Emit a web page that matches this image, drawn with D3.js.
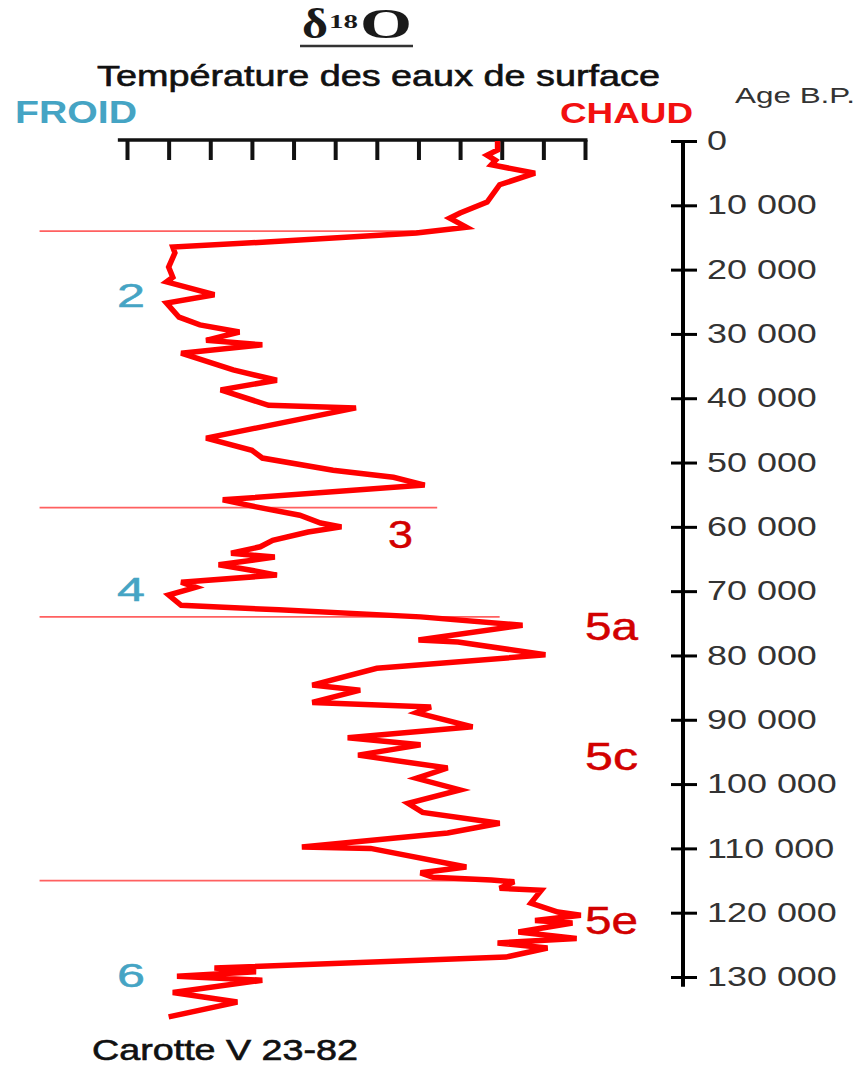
<!DOCTYPE html>
<html>
<head>
<meta charset="utf-8">
<script src="https://cdn.jsdelivr.net/npm/d3@7"></script>
<style>
  body { margin: 0; background: #fff; }
  svg { display: block; }
</style>
</head>
<body>
<svg id="chart" width="859" height="1065"></svg>
<script>
// δ18O record of core V 23-82: age (years B.P.) and relative surface-water temperature (cold → warm)
const ages = [
  0, 1400, 2200, 3000, 3700, 5000, 6800, 9500, 11200, 12000,
  13400, 14300, 15700, 16500, 17400, 19600, 21200, 21900, 23900, 25200,
  27400, 28600, 29700, 31000, 31700, 33000, 35600, 37200, 38700, 41100,
  41500, 46200, 48100, 49300, 51200, 52300, 53500, 55800, 56900, 58200,
  59400, 60000, 60800, 62100, 63100, 64100, 64700, 65900, 66700, 67500,
  68600, 69400, 70600, 72200, 72900, 74000, 75300, 77600, 77900, 79900,
  82000, 84600, 85400, 87300, 88000, 88900, 91100, 92800, 93900, 95500,
  97500, 99100, 100900, 103000, 104400, 106100, 107600, 109800, 110000, 112900,
  113800, 114500, 114900, 115200, 116200, 116500, 118500, 119900, 120400, 121200,
  121600, 123000, 124000, 124700, 125500, 126900, 128600, 129200, 129900, 130500,
  132400, 133900, 136200
];
const temps = [
  8.9, 8.9, 8.65, 8.85, 8.75, 9.8, 8.95, 8.65, 8.0, 7.75,
  8.15, 6.95, 3.35, 1.1, 1.15, 1.0, 1.1, 0.95, 2.1, 0.95,
  1.25, 1.75, 2.7, 1.9, 3.25, 1.3, 2.55, 3.6, 2.25, 3.4,
  5.5, 1.9, 3.0, 3.25, 4.95, 6.4, 7.15, 2.3, 3.1, 4.15,
  4.65, 5.15, 4.35, 3.5, 3.2, 2.5, 3.55, 2.2, 2.95, 3.6,
  1.3, 1.65, 1.0, 1.3, 3.65, 7.05, 9.5, 7.0, 7.95, 10.05,
  6.0, 4.45, 5.6, 4.45, 7.3, 6.95, 8.3, 5.3, 7.05, 5.55,
  7.7, 6.95, 8.0, 6.75, 7.1, 8.95, 7.7, 4.2, 5.85, 8.15,
  7.05, 7.35, 8.75, 9.3, 8.95, 9.95, 9.7, 10.35, 10.9, 9.8,
  10.7, 9.4, 10.8, 8.9, 10.1, 9.1, 2.1, 3.1, 1.2, 3.25,
  1.1, 2.65, 1.0
];

// Axes
const ageTicks = d3.range(0, 130001, 10000);
const tempTicks = d3.range(0, 12);

// Isotope stages
const stageNames = ["2", "3", "4", "5a", "5c", "5e", "6"];
const stageAges = [23900, 61100, 69600, 75400, 95600, 121200, 129700];
const stageCold = [true, false, true, false, false, false, true];

// Stage boundaries (age) and where each marker line stops on the temperature scale
const boundaryAges = [14000, 57000, 74000, 115000];
const boundaryEnds = [7.05, 7.45, 8.95, 8.95];

const SANS = "'Liberation Sans', Arial, Helvetica, sans-serif";
const SERIF = "'Liberation Serif', 'Times New Roman', serif";
const TEAL = "#45a4c4";
const DARKRED = "#d20000";

const svg = d3.select("#chart");
const x = d3.scaleLinear().domain([0, 11]).range([127, 585]);
const y = d3.scaleLinear().domain([0, 130000]).range([141, 977]);

// text helper: draws a label and stretches it horizontally to the given width
function addText(txt, o) {
  const t = svg.append("text")
    .attr("x", o.x).attr("y", o.y)
    .attr("font-family", o.family || SANS)
    .attr("font-size", o.size)
    .attr("font-weight", o.weight || "normal")
    .attr("fill", o.fill || "#111")
    .attr("text-anchor", o.anchor || "start")
    .text(txt);
  if (o.dy) t.attr("dy", o.dy);
  if (o.heavy) t.attr("stroke", o.fill || "#111").attr("stroke-width", o.heavy);
  if (o.width) t.attr("textLength", o.width).attr("lengthAdjust", "spacingAndGlyphs");
  return t;
}

// Title
addText("δ", { x: 302, y: 38, size: 42, family: SERIF, weight: "bold", width: 26, fill: "#1a1a1a" });
addText("18", { x: 329, y: 28, size: 19, family: SERIF, weight: "bold", width: 29, fill: "#1a1a1a" });
addText("O", { x: 360, y: 38, size: 42, family: SERIF, weight: "bold", width: 52, fill: "#1a1a1a" });
svg.append("line").attr("x1", 300).attr("x2", 413).attr("y1", 46).attr("y2", 46)
  .attr("stroke", "#333").attr("stroke-width", 2.5);

addText("Température des eaux de surface", { x: 97, y: 86, size: 29, width: 563, fill: "#111", heavy: 0.6 });
addText("FROID", { x: 15, y: 123, size: 31, weight: "bold", width: 122, fill: TEAL });
addText("CHAUD", { x: 560, y: 123, size: 29, weight: "bold", width: 133, fill: "#f21010" });
addText("Age B.P.", { x: 735, y: 103, size: 22, width: 120, fill: "#333" });
addText("Carotte V 23-82", { x: 92, y: 1060, size: 29, width: 266, fill: "#111", heavy: 0.6 });

// Stage boundary markers
svg.append("g").selectAll("line").data(boundaryAges).join("line")
  .attr("x1", x(-2.1))
  .attr("x2", (d, i) => x(boundaryEnds[i]))
  .attr("y1", d => y(d)).attr("y2", d => y(d))
  .attr("stroke", "#ff6060").attr("stroke-width", 1.7);

// Top temperature axis (ticks only)
const tAxis = d3.axisBottom(x).tickValues(tempTicks).tickSize(20).tickSizeOuter(0).tickFormat("");
const gT = svg.append("g").attr("transform", "translate(0,140)").call(tAxis);
gT.select(".domain").remove();
gT.selectAll(".tick line").attr("stroke", "#111").attr("stroke-width", 4);
svg.append("line").attr("x1", x(-0.22)).attr("x2", x(11.06)).attr("y1", 140).attr("y2", 140)
  .attr("stroke", "#111").attr("stroke-width", 3.5);

// Right age axis
const fr = d3.formatLocale({ decimal: ",", thousands: " ", grouping: [3], currency: ["", " €"] });
const fmt = fr.format(",d");
const aAxis = d3.axisRight(y).tickValues(ageTicks).tickSize(14).tickSizeOuter(0).tickFormat(fmt);
const gA = svg.append("g").attr("transform", "translate(683,0)").call(aAxis)
  .attr("font-size", 27).attr("font-family", SANS);
gA.select(".domain").remove();
gA.selectAll(".tick line").attr("x1", -12).attr("x2", 14).attr("stroke", "#000").attr("stroke-width", 3);
gA.selectAll(".tick text").attr("x", 24).attr("fill", "#333")
  .each(function () {
    const w = this.getComputedTextLength();
    d3.select(this).attr("textLength", w * 1.33).attr("lengthAdjust", "spacingAndGlyphs");
  });
svg.append("line").attr("x1", 683).attr("x2", 683).attr("y1", y(0) - 1).attr("y2", y(131500))
  .attr("stroke", "#000").attr("stroke-width", 4);

// δ18O curve
const pts = ages.map((a, i) => [a, temps[i]]);
const line = d3.line().x(d => x(d[1])).y(d => y(d[0])).curve(d3.curveLinear);
svg.append("path").datum(pts)
  .attr("d", line)
  .attr("fill", "none")
  .attr("stroke", "#ff0000")
  .attr("stroke-width", 5.5)
  .attr("stroke-linejoin", "miter")
  .attr("stroke-miterlimit", 4);

// Stage labels
stageNames.forEach((s, i) => {
  const cold = stageCold[i];
  let lx, w, size;
  if (cold) { lx = 117; w = 28; size = 34; }
  else if (s === "3") { lx = 388; w = 25; size = 39; }
  else { lx = 585; w = 53; size = 39; }
  addText(s, { x: lx, y: y(stageAges[i]), dy: "0.36em", size: size, width: w,
               fill: cold ? TEAL : DARKRED, heavy: 0.5 });
});
</script>
</body>
</html>
